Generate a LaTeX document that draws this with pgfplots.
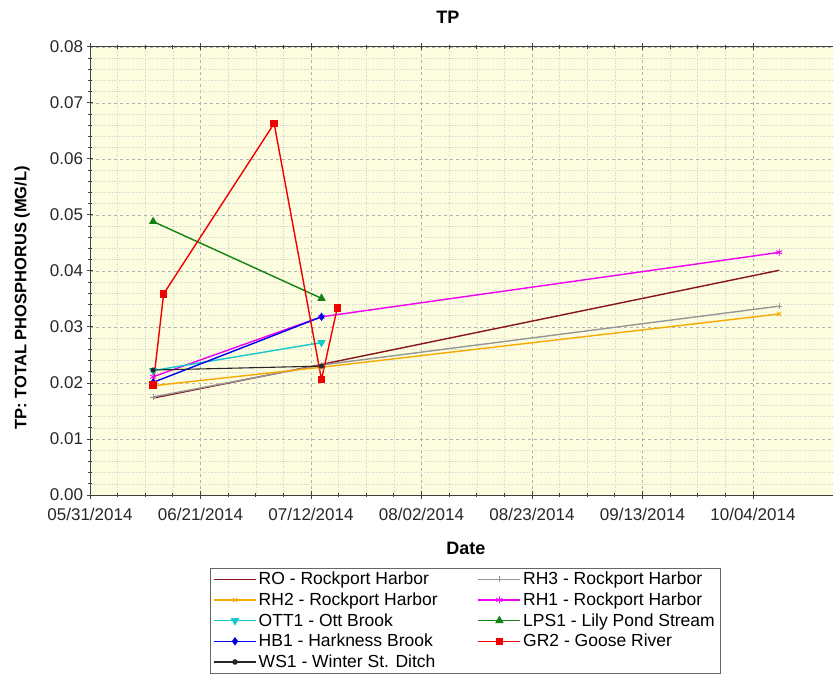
\documentclass[border=0pt]{standalone}
\usepackage{pgfplots}
\pgfplotsset{compat=1.18}
\usepackage{fontspec}
\setmainfont{Liberation Sans}
\definecolor{bgyellow}{RGB}{252,252,222}
\definecolor{cRO}{RGB}{135,20,30}
\definecolor{cRH3}{RGB}{150,150,150}
\definecolor{cRH2}{RGB}{245,170,0}
\definecolor{cRH1}{RGB}{240,0,240}
\definecolor{cOTT}{RGB}{20,200,200}
\definecolor{cLPS}{RGB}{20,130,20}
\definecolor{cHB}{RGB}{0,0,240}
\definecolor{cGR}{RGB}{240,0,0}
\begin{document}
\begin{tikzpicture}
\useasboundingbox (0,0) rectangle (833pt,675pt);
\begin{axis}[
    scale only axis,
    width=755pt, height=448.3pt,
    at={(90pt,180pt)}, anchor=south west,
    xmin=0, xmax=143.5,
    ymin=0, ymax=0.08,
    axis background/.style={fill=bgyellow},
    axis line style={black!75, line width=1pt},
    xtick={0,21,42,63,84,105,126},
    xticklabels={05/31/2014,06/21/2014,07/12/2014,08/02/2014,08/23/2014,09/13/2014,10/04/2014},
    minor x tick num=3,
    ytick={0,0.01,0.02,0.03,0.04,0.05,0.06,0.07,0.08},
    minor y tick num=4,
    scaled y ticks=false,
    y tick label style={/pgf/number format/fixed, /pgf/number format/fixed zerofill, /pgf/number format/precision=2},
    x tick label style={yshift=-6pt},
    /pgf/number format/assume math mode=true,
    tick label style={font=\fontsize{17}{17}\selectfont, black!85},
    grid=both,
    major grid style={dashed, black!30},
    minor grid style={dotted, black!18},
    tick align=center,
    major tick length=7pt, minor tick length=4pt,
    every tick/.style={black!75, line width=0.8pt},
    title={TP},
    title style={at={(axis description cs:0.474,1.052)}, anchor=center, font=\bfseries\fontsize{18}{18}\selectfont},
    xlabel={Date},
    xlabel style={at={(axis description cs:0.498,-0.118)}, anchor=center, font=\bfseries\fontsize{18}{18}\selectfont},
    ylabel={TP: TOTAL PHOSPHORUS (MG/L)},
    ylabel style={at={(axis description cs:-0.090,0.44)}, anchor=center, font=\bfseries\fontsize{16.5}{16.5}\selectfont},
    legend columns=2,
    legend cell align=left,
    legend style={at={(axis description cs:0.159,-0.1628)}, anchor=north west,
        draw=black!60, fill=white, font=\fontsize{17.5}{21}\selectfont,
        row sep=2.5pt,
        /tikz/every even column/.append style={column sep=38pt}},
    legend image code/.code={\draw[line width=1.5pt, mark repeat=2, mark phase=2] plot coordinates {(0pt,0pt) (21pt,0pt) (42pt,0pt)};},
    every axis plot/.append style={line width=1.4pt},
]
\addplot[cRO, no marks] coordinates {(12,0.0173) (44,0.0233) (131,0.0401)};
\addlegendentry{RO - Rockport Harbor}
\addplot[cRH3, mark=+, mark size=3pt, mark options={line width=0.8pt}] coordinates {(12,0.0175) (44,0.0232) (131,0.0337)};
\addlegendentry{RH3 - Rockport Harbor}
\addplot[cRH2, mark=x, mark size=3pt, mark options={line width=0.8pt}] coordinates {(12,0.0195) (44,0.0228) (131,0.0323)};
\addlegendentry{RH2 - Rockport Harbor}
\addplot[cRH1, mark=asterisk, mark size=3.5pt, mark options={line width=0.8pt}] coordinates {(12,0.0211) (44,0.0318) (131,0.0433)};
\addlegendentry{RH1 - Rockport Harbor}
\addplot[cOTT, mark=triangle*, mark size=3.5pt, mark options={rotate=180}] coordinates {(12,0.0222) (44,0.0272)};
\addlegendentry{OTT1 - Ott Brook}
\addplot[cLPS, mark=triangle*, mark size=3.5pt] coordinates {(12,0.0488) (44,0.0351)};
\addlegendentry{LPS1 - Lily Pond Stream}
\addplot[cHB, mark=diamond*, mark size=3pt] coordinates {(12,0.0201) (44,0.0318)};
\addlegendentry{HB1 - Harkness Brook}
\addplot[cGR, mark=square*, mark size=3pt] coordinates {(12,0.0196) (14,0.0359) (35,0.0663) (44,0.0206) (47,0.0334)};
\addlegendentry{GR2 - Goose River}
\addplot[black!85, mark=*, mark size=2pt, line width=1.1pt] coordinates {(12,0.0223) (44,0.0230)};
\addlegendentry{WS1 - Winter St. Ditch}
\end{axis}
\end{tikzpicture}
\end{document}
